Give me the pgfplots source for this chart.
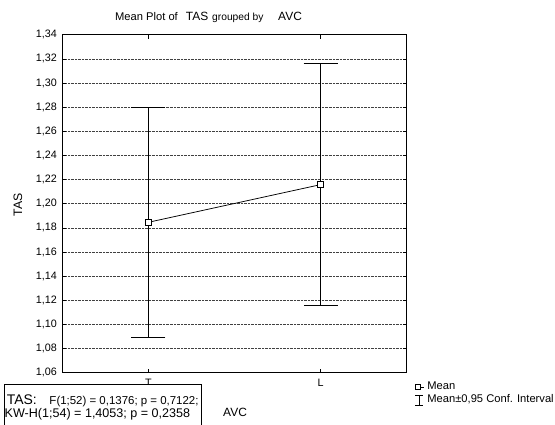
\documentclass[border=0pt]{standalone}
\usepackage{pgfplots}
\pgfplotsset{compat=1.18}
\usepackage{fontspec}
\setmainfont{Liberation Sans}
\begin{document}
\begin{tikzpicture}[x=1bp,y=1bp]
\path[use as bounding box] (0,0) rectangle (555,424);
\begin{axis}[
  at={(62.3bp,51.3bp)}, anchor=south west,
  scale only axis, width=344.4bp, height=338bp,
  xmin=-0.5, xmax=1.5, ymin=1.06, ymax=1.34,
  xtick={0,1}, xticklabels={T,L},
  ytick={1.06,1.08,1.10,1.12,1.14,1.16,1.18,1.20,1.22,1.24,1.26,1.28,1.30,1.32,1.34},
  ymajorgrids, grid style={densely dotted, black!75, line width=0.6bp},
  tick align=inside, major tick length=4bp, tick pos=both,
  tick style={black, line width=0.6bp},
  axis line style={black, line width=0.75bp},
  yticklabel style={/pgf/number format/fixed, /pgf/number format/fixed zerofill, /pgf/number format/precision=2, /pgf/number format/use comma, /pgf/number format/assume math mode=true, xshift=-2bp},
  tick label style={font=\fontsize{10.8}{12}\selectfont},
  xticklabel style={yshift=-3bp},
  xlabel={AVC},
  xlabel style={at={(axis description cs:0.4666,-0.1296)}, anchor=base west, inner sep=0pt, font=\fontsize{12}{14}\selectfont},
  ylabel={TAS},
  ylabel style={at={(axis description cs:-0.1286,0.496)}, anchor=center, inner sep=0pt, font=\fontsize{12.3}{14}\selectfont},
  legend style={at={(axis description cs:1.0235,-0.023)}, anchor=north west, draw=none, fill=none,
    font=\fontsize{11.2}{13}\selectfont, row sep=0bp, inner sep=0pt, column sep=2bp,
    nodes={inner sep=1.2bp, text height=8bp, text depth=2.5bp}},
  legend cell align=left,
]
\addplot[black, line width=0.75bp, mark=square*, mark size=2.8bp,
  mark options={fill=white, line width=0.75bp, solid},
  legend image code/.code={
    \draw[black, line width=0.7bp] (5bp,0bp) -- (9bp,0bp);
    \draw[black, line width=0.7bp, fill=white] (0.5bp,-2.3bp) rectangle (5bp,2.3bp);},
  error bars/.cd, y dir=both, y explicit, error mark=|,
  error mark options={mark size=17bp, line width=0.9bp, black},
  error bar style={line width=0.9bp, black},
  ] coordinates {(0,1.1846) +- (0,0.0952) (1,1.2158) +- (0,0.1004)};
\addlegendentry{Mean}
\addlegendimage{legend image code/.code={
  \draw[black, line width=0.8bp] (4.5bp,-5bp) -- (4.5bp,5bp);
  \draw[black, line width=0.8bp] (0.5bp,5bp) -- (8.5bp,5bp);
  \draw[black, line width=0.8bp] (0.5bp,-5bp) -- (8.5bp,-5bp);}}
\addlegendentry{Mean±0,95 Conf. Interval}
\end{axis}
% statistics box
\draw[fill=white, line width=0.75bp] (4,-10) rectangle (201.7,40);
\node[anchor=base west, inner sep=0, font=\fontsize{14}{16}\selectfont] at (6.7,20) {TAS:};
\node[anchor=base west, inner sep=0, font=\fontsize{11.5}{13}\selectfont] at (49.3,20) {F(1;52) = 0,1376; p = 0,7122;};
\node[anchor=base west, inner sep=0, font=\fontsize{12.6}{14}\selectfont] at (4.5,7) {KW-H(1;54) = 1,4053; p = 0,2358};
% title
\node[anchor=base west, inner sep=0, font=\fontsize{11.2}{12}\selectfont] at (115,403.3) {Mean Plot of};
\node[anchor=base west, inner sep=0, font=\fontsize{12}{14}\selectfont] at (185.7,403.3) {TAS};
\node[anchor=base west, inner sep=0, font=\fontsize{10.3}{12}\selectfont] at (212,403.3) {grouped by};
\node[anchor=base west, inner sep=0, font=\fontsize{12}{14}\selectfont] at (278,403.3) {AVC};
\end{tikzpicture}
\end{document}
